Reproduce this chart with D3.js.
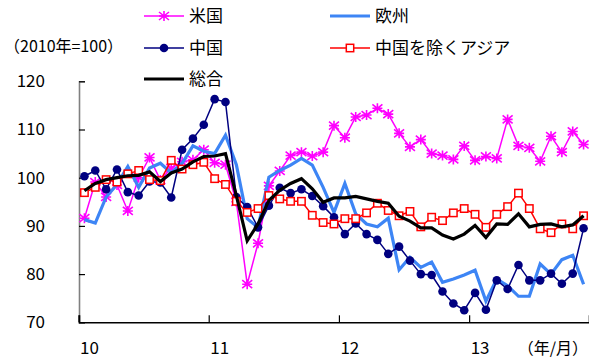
<!DOCTYPE html>
<html><head><meta charset="utf-8">
<script src="https://cdn.jsdelivr.net/npm/d3@7"></script>
<style>
html,body{margin:0;padding:0;background:#fff;}
svg{display:block;font-family:"Noto Sans CJK JP","Noto Sans",sans-serif;}
</style></head>
<body>
<svg id="chart" width="589" height="360"></svg>
<script>
// Months, Jan 2010 – Nov 2013
const months = [
  "10/1","10/2","10/3","10/4","10/5","10/6","10/7","10/8","10/9","10/10","10/11","10/12",
  "11/1","11/2","11/3","11/4","11/5","11/6","11/7","11/8","11/9","11/10","11/11","11/12",
  "12/1","12/2","12/3","12/4","12/5","12/6","12/7","12/8","12/9","12/10","12/11","12/12",
  "13/1","13/2","13/3","13/4","13/5","13/6","13/7","13/8","13/9","13/10","13/11"
];
const yearTicks = ["10/1","11/1","12/1","13/1"];
const yearLabels = ["10","11","12","13"];
const yTicks = [70,80,90,100,110,120];

// Export volume index by destination (2010 = 100)
const usa = [91.6,99.1,96.0,98.5,93.1,100.0,104.2,99.5,102.0,103.3,103.7,105.8,
  103.1,102.7,95.0,77.9,86.4,98.3,101.4,104.6,105.3,104.5,105.3,110.8,
  108.3,112.6,113.0,114.4,113.2,109.2,106.4,107.9,105.0,104.6,103.8,106.6,
  103.6,104.4,104.0,112.1,106.6,106.2,103.4,108.6,105.3,109.6,106.9];
const europe = [91.3,90.6,96.0,98.6,102.3,98.0,102.0,103.0,101.0,103.0,106.6,105.5,
  105.0,108.8,102.7,91.5,89.7,100.1,101.5,102.6,104.0,102.6,98.0,92.8,
  98.8,92.5,90.4,89.8,91.6,80.9,83.5,81.4,82.5,78.3,79.0,79.8,
  80.8,74.4,79.0,77.6,75.4,75.4,82.1,80.0,83.0,83.9,77.9];
const china = [100.3,101.5,97.6,101.7,97.0,96.3,99.2,99.0,95.9,105.8,108.1,111.0,
  116.3,115.7,96.0,93.9,89.7,94.2,97.9,96.8,97.6,96.2,94.1,91.8,
  88.3,90.5,88.3,87.1,84.2,85.7,82.8,80.0,79.8,76.4,73.9,72.5,
  76.1,72.6,78.7,76.9,81.9,78.7,78.7,80.1,78.0,80.1,89.5];
const asiaExChina = [96.9,98.0,99.6,99.1,100.8,101.5,99.6,99.4,103.6,101.8,102.7,103.2,
  99.8,98.6,95.1,92.8,93.6,96.3,95.6,95.1,95.1,92.2,90.7,90.4,
  91.5,91.5,92.7,94.7,93.2,92.1,93.0,89.8,91.8,91.1,92.7,93.6,
  92.4,89.7,92.4,94.0,96.8,93.6,89.4,88.6,90.4,89.4,92.1];
const total = [97.3,98.8,99.6,100.0,100.4,100.5,101.2,99.2,101.0,101.8,103.3,104.4,
  104.5,105.0,96.3,86.9,90.4,95.3,97.4,98.8,99.8,97.7,94.9,95.8,
  95.8,96.1,95.6,95.1,94.7,92.0,91.0,89.6,89.6,88.1,87.3,88.3,
  90.1,87.6,90.4,90.3,92.5,89.8,90.3,90.4,89.8,90.2,92.1];

const series = [
  {name:"米国", values:usa, color:"#ff00ff", width:1.5, marker:"star"},
  {name:"欧州", values:europe, color:"#3d85f5", width:3.2, marker:null},
  {name:"中国", values:china, color:"#000080", width:1.5, marker:"dot"},
  {name:"中国を除くアジア", values:asiaExChina, color:"#ff0000", width:1.5, marker:"square"},
  {name:"総合", values:total, color:"#000000", width:3.2, marker:null}
];

const svg = d3.select("#chart");
const plotLeft = 79, plotRight = 589, plotTop = 81.3, plotBottom = 322.3;

const x = d3.scaleBand().domain(months).range([plotLeft, plotRight]).paddingInner(0).paddingOuter(0);
const xc = m => x(m) + x.bandwidth() / 2;
const y = d3.scaleLinear().domain([70, 120]).range([plotBottom, plotTop]);

// Axes
const yAxis = d3.axisLeft(y).tickValues(yTicks).tickSize(-6).tickPadding(34).tickFormat(d3.format("d"));
const gy = svg.append("g").attr("transform", `translate(${plotLeft},0)`).call(yAxis);
gy.select(".domain").attr("stroke", "#808080").attr("stroke-width", 1.6);
gy.selectAll(".tick line").attr("stroke", "#000").attr("stroke-width", 1.2);
gy.selectAll(".tick text").attr("font-size", 17).attr("fill", "#000")
  .attr("font-family", "'Noto Sans CJK JP',sans-serif");

const xAxis = d3.axisBottom(x).tickValues(yearTicks).tickSize(-7).tickFormat(() => "");
const gx = svg.append("g").attr("transform", `translate(0,${plotBottom})`).call(xAxis);
gx.select(".domain").attr("stroke", "#000").attr("stroke-width", 1.6);
gx.selectAll(".tick").attr("transform", d => `translate(${x(d)},0)`);
gx.selectAll(".tick line").attr("stroke", "#000").attr("stroke-width", 1.2);

svg.append("g").selectAll("text").data(yearTicks).join("text")
  .attr("x", d => x(d) + 1).attr("y", 354)
  .attr("font-size", 17).attr("fill", "#000")
  .text((d, i) => yearLabels[i]);

svg.append("text").attr("x", 588).attr("y", 354).attr("text-anchor", "end")
  .attr("font-size", 16).attr("fill", "#000").text("（年/月）");

svg.append("text").attr("x", 4).attr("y", 52)
  .attr("font-size", 16).attr("fill", "#000").text("（2010年=100）");

// Marker painters
function drawMarker(g, type, cx, cy, color) {
  if (type === "star") {
    const r = 5;
    const p = `M${cx},${cy-r}L${cx},${cy+r}M${cx-r},${cy-r*0.8}L${cx+r},${cy+r*0.8}M${cx-r},${cy+r*0.8}L${cx+r},${cy-r*0.8}M${cx-r},${cy}L${cx+r},${cy}`;
    g.append("path").attr("d", p).attr("stroke", color).attr("stroke-width", 1.6).attr("fill", "none");
  } else if (type === "dot") {
    g.append("circle").attr("cx", cx).attr("cy", cy).attr("r", 4.3).attr("fill", color);
  } else if (type === "square") {
    g.append("rect").attr("x", cx - 3.7).attr("y", cy - 3.7).attr("width", 7.4).attr("height", 7.4)
      .attr("fill", "#fff").attr("stroke", color).attr("stroke-width", 1.5);
  }
}

const line = d3.line().x((d, i) => xc(months[i])).y(d => y(d));
const plot = svg.append("g");
series.forEach(s => {
  const g = plot.append("g");
  g.append("path").attr("d", line(s.values)).attr("fill", "none")
    .attr("stroke", s.color).attr("stroke-width", s.width).attr("stroke-linejoin", "miter");
  if (s.marker) s.values.forEach((v, i) => drawMarker(g, s.marker, xc(months[i]), y(v), s.color));
});

// Legend
const legendPos = [
  {x:144, y:16}, {x:330, y:16}, {x:144, y:48}, {x:330, y:48}, {x:144, y:79}
];
series.forEach((s, i) => {
  const p = legendPos[i];
  const g = svg.append("g");
  g.append("line").attr("x1", p.x).attr("x2", p.x + 40).attr("y1", p.y).attr("y2", p.y)
    .attr("stroke", s.color).attr("stroke-width", s.width);
  if (s.marker) drawMarker(g, s.marker, p.x + 20, p.y, s.color);
  g.append("text").attr("x", p.x + 45).attr("y", p.y + 6)
    .attr("font-size", 17).attr("fill", "#000").text(s.name);
});
</script>
</body></html>
